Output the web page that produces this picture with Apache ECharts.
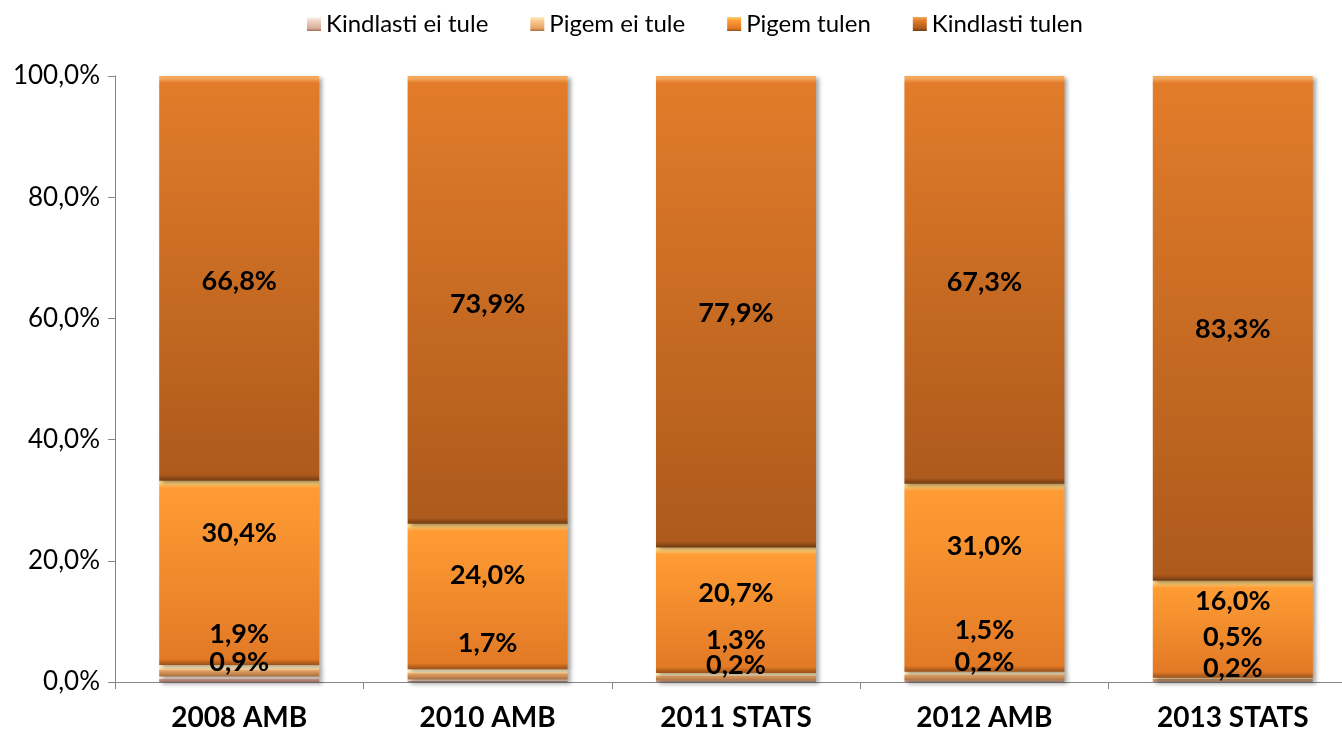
<!DOCTYPE html>
<html>
<head>
<meta charset="utf-8">
<script src="https://cdn.jsdelivr.net/npm/echarts@6/dist/echarts.min.js"></script>
<style>
html,body{margin:0;padding:0;background:#fff;}
#chart{width:1342px;height:737px;}
</style>
</head>
<body>
<div id="chart"></div>
<script>
// ---- data ----
const categories = ['2008 AMB', '2010 AMB', '2011 STATS', '2012 AMB', '2013 STATS'];
const seriesNames = ['Kindlasti ei tule', 'Pigem ei tule', 'Pigem tulen', 'Kindlasti tulen'];
const kindlastiEiTule = [0.9, 0.4, 0.2, 0.2, 0.2];
const pigemEiTule = [1.9, 1.7, 1.3, 1.5, 0.5];
const pigemTulen = [30.4, 24.0, 20.7, 31.0, 16.0];
const kindlastiTulen = [66.8, 73.9, 77.9, 67.3, 83.3];
const yTickValues = [0, 20, 40, 60, 80, 100];

// ---- label layout tweaks (pixels, styling only) ----
const labelNudge = [
  [-17, null, -16, -19, -13],
  [-36, -31, -37, -46, -42],
  [-40, -21, -17, -31, -28],
  [3, 4, 2, 2, 1]
];

// ---- styling ----
const palettes = [
  { hi: '#FFF6F0', top: '#F2D6C8', bottom: '#D9AC98', dark: '#9E7060' },
  { hi: '#FFF0C8', top: '#F8CC92', bottom: '#E5A466', dark: '#A86C3C' },
  { hi: '#FFD27A', top: '#FF9C34', bottom: '#E27A26', dark: '#9A5016' },
  { hi: '#F4A85E', top: '#E27C2A', bottom: '#AD5A1C', dark: '#723A10' }
];
const pxPerUnit = 606 / 100;

function makeGrad(p, h) {
  h = Math.max(h, 1);
  const b = Math.min(0.4, 7 / h);
  const d = Math.min(0.3, 3 / h);
  return new echarts.graphic.LinearGradient(0, 0, 0, 1, [
    { offset: 0, color: p.hi },
    { offset: b * 0.35, color: p.hi },
    { offset: b, color: p.top },
    { offset: Math.max(b, 1 - d * 2), color: p.bottom },
    { offset: 1, color: p.dark }
  ]);
}

function legendGrad(p) {
  return new echarts.graphic.LinearGradient(0, 0, 0, 1, [
    { offset: 0, color: p.hi },
    { offset: 0.25, color: p.top },
    { offset: 0.8, color: p.bottom },
    { offset: 1, color: p.dark }
  ]);
}

const fmt = v => Number(v).toFixed(1).replace('.', ',') + '%';
const valueArrays = [kindlastiEiTule, pigemEiTule, pigemTulen, kindlastiTulen];

const series = valueArrays.map((arr, si) => ({
  name: seriesNames[si],
  type: 'bar',
  stack: 'total',
  barWidth: 160,
  data: arr.map((v, ci) => {
    const n = labelNudge[si][ci];
    return n === null
      ? { value: v, label: { show: false } }
      : { value: v, label: { offset: [0, n] } };
  }),
  itemStyle: {
    color: params => makeGrad(palettes[si], params.value * pxPerUnit),
    shadowColor: 'rgba(0,0,0,0.35)',
    shadowBlur: 4,
    shadowOffsetX: 3,
    shadowOffsetY: 2
  },
  label: {
    show: true,
    position: 'inside',
    formatter: p => fmt(p.value),
    fontFamily: 'Lato',
    fontWeight: 'bold',
    fontSize: 27,
    color: '#000'
  },
  emphasis: { disabled: true }
}));

const chart = echarts.init(document.getElementById('chart'));
chart.setOption({
  animation: false,
  backgroundColor: '#fff',
  legend: {
    top: 7,
    left: 302,
    itemWidth: 14,
    itemHeight: 14,
    itemGap: 42,
    textStyle: { fontFamily: 'Lato', fontSize: 24, color: '#000' },
    data: seriesNames.map((n, i) => ({ name: n, icon: 'rect', itemStyle: { color: legendGrad(palettes[i]), shadowBlur: 0 } }))
  },
  grid: { left: 115, width: 1242, top: 76, height: 606, containLabel: false, outerBoundsMode: 'none' },
  xAxis: {
    type: 'category',
    data: categories,
    axisLine: { lineStyle: { color: '#868686', width: 1 } },
    axisTick: { show: true, length: 7, lineStyle: { color: '#868686' } },
    axisLabel: { fontFamily: 'Lato', fontWeight: 'bold', fontSize: 28, color: '#000', margin: 22 }
  },
  yAxis: {
    type: 'value',
    min: yTickValues[0],
    max: yTickValues[yTickValues.length - 1],
    interval: yTickValues[1] - yTickValues[0],
    axisLine: { show: true, lineStyle: { color: '#868686', width: 1 } },
    axisTick: { show: true, length: 7, lineStyle: { color: '#868686' } },
    splitLine: { show: false },
    axisLabel: { fontFamily: 'Lato', fontSize: 26, color: '#000', margin: 15, formatter: v => fmt(v) }
  },
  series: series
});
</script>
</body>
</html>
